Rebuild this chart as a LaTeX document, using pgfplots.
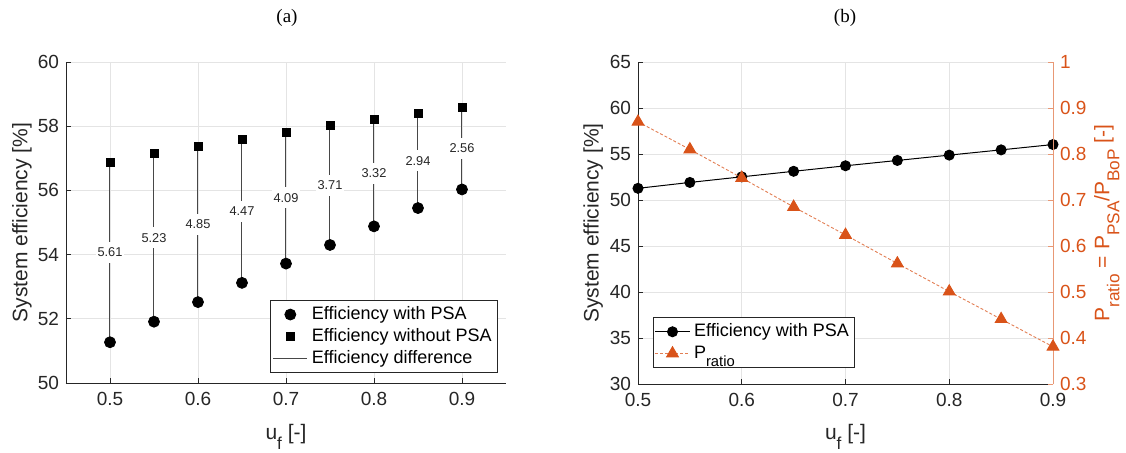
\documentclass[border=0pt]{standalone}
\usepackage{fontspec}
\setmainfont{Liberation Sans}
\newfontfamily\titlefont{Liberation Serif}
\usepackage{pgfplots}
\pgfplotsset{compat=1.18}
\definecolor{morange}{RGB}{217,83,25}
\definecolor{mgrid}{RGB}{228,228,228}
\definecolor{maxis}{RGB}{38,38,38}
% MATLAB-like subscript: larger and lower than \textsubscript
\newcommand{\msub}[1]{\raisebox{-0.9ex}{\scalebox{0.82}{#1}}}

\pgfplotsset{mstyle/.style={
  scale only axis,
  axis x line*=bottom, axis y line*=left,
  x axis line style={-}, y axis line style={-},
  axis line style={maxis, line width=0.4pt},
  grid=major, major grid style={mgrid, line width=0.4pt},
  tick align=inside, major tick length=2.5pt, tick style={maxis, line width=0.4pt},
  tick label style={font=\fontsize{9.5}{11}\selectfont, text=maxis},
  xticklabel style={yshift=-1pt},
  label style={font=\fontsize{10.5}{12}\selectfont, text=maxis},
  /pgf/number format/assume math mode=true,
  legend style={font=\fontsize{9}{10.5}\selectfont, draw=maxis, line width=0.4pt,
    inner sep=1pt, row sep=-1pt},
  legend cell align=left,
}}

\begin{document}
\begin{tikzpicture}
\useasboundingbox (0,0) rectangle (563pt,226pt);

% titles
\node[font=\titlefont\fontsize{9.5}{11}\selectfont] at (143.5pt,217pt) {(a)};
\node[font=\titlefont\fontsize{9.5}{11}\selectfont] at (422.5pt,217pt) {(b)};

% (a)
\begin{axis}[mstyle,
  at={(33pt,34.5pt)}, anchor=south west,
  width=220pt, height=160.5pt,
  xmin=0.45, xmax=0.95, ymin=50, ymax=60,
  xtick={0.5,0.6,0.7,0.8,0.9}, ytick={50,52,54,56,58,60},
  xlabel={u\msub{f} [-]},
  ylabel={System efficiency [\%]},
  xlabel style={at={(axis description cs:0.5,-0.168)}, anchor=center},
  ylabel style={at={(axis description cs:-0.1,0.5)}, anchor=center, rotate=0},
  legend style={at={(0.982,0.031)}, anchor=south east},
]
% efficiency difference lines
\addplot[forget plot, color=maxis!85, line width=0.5pt, unbounded coords=jump] coordinates {
  (0.50,51.27) (0.50,56.88) (0.50,nan)
  (0.55,51.91) (0.55,57.14) (0.55,nan)
  (0.60,52.52) (0.60,57.37) (0.60,nan)
  (0.65,53.12) (0.65,57.59) (0.65,nan)
  (0.70,53.72) (0.70,57.81) (0.70,nan)
  (0.75,54.30) (0.75,58.01) (0.75,nan)
  (0.80,54.88) (0.80,58.20) (0.80,nan)
  (0.85,55.45) (0.85,58.39) (0.85,nan)
  (0.90,56.03) (0.90,58.59)};
% difference labels
\addplot[forget plot, only marks, mark=none, nodes near coords, point meta=explicit symbolic,
  nodes near coords style={anchor=center, fill=white, inner xsep=1pt, inner ysep=3pt,
    font=\fontsize{6.4}{7}\selectfont, text=maxis}] coordinates {
  (0.50,54.075) [5.61]
  (0.55,54.525) [5.23]
  (0.60,54.945) [4.85]
  (0.65,55.355) [4.47]
  (0.70,55.765) [4.09]
  (0.75,56.155) [3.71]
  (0.80,56.54)  [3.32]
  (0.85,56.92)  [2.94]
  (0.90,57.31)  [2.56]};
\addplot[only marks, mark=*, mark size=2.75pt, black] coordinates {
  (0.50,51.27) (0.55,51.91) (0.60,52.52) (0.65,53.12) (0.70,53.72)
  (0.75,54.30) (0.80,54.88) (0.85,55.45) (0.90,56.03)};
\addlegendentry{Efficiency with PSA}
\addplot[only marks, mark=square*, mark size=2pt, black] coordinates {
  (0.50,56.88) (0.55,57.14) (0.60,57.37) (0.65,57.59) (0.70,57.81)
  (0.75,58.01) (0.80,58.20) (0.85,58.39) (0.90,58.59)};
\addlegendentry{Efficiency without PSA}
\addlegendimage{line legend, color=maxis!85, line width=0.5pt}
\addlegendentry{Efficiency difference}
\end{axis}

% (b) left axis
\begin{axis}[mstyle,
  at={(319pt,34pt)}, anchor=south west,
  width=207.5pt, height=161pt,
  xmin=0.5, xmax=0.9, ymin=30, ymax=65,
  xtick={0.5,0.6,0.7,0.8,0.9}, ytick={30,35,40,45,50,55,60,65},
  xlabel={u\msub{f} [-]},
  ylabel={System efficiency [\%]},
  xlabel style={at={(axis description cs:0.5,-0.165)}, anchor=center},
  ylabel style={at={(axis description cs:-0.108,0.5)}, anchor=center},
]
\addplot[black, line width=0.5pt, mark=*, mark size=2.5pt] coordinates {
  (0.50,51.27) (0.55,51.91) (0.60,52.52) (0.65,53.12) (0.70,53.72)
  (0.75,54.30) (0.80,54.88) (0.85,55.45) (0.90,56.03)};
\end{axis}

% (b) right axis
\begin{axis}[
  scale only axis,
  at={(319pt,34pt)}, anchor=south west,
  width=207.5pt, height=161pt,
  xmin=0.5, xmax=0.9, ymin=0.3, ymax=1,
  axis x line=none, axis y line*=right,
  y axis line style={-, morange!60, line width=0.4pt},
  tick align=inside, major tick length=2.5pt, ytick style={morange!60, line width=0.4pt},
  ytick={0.3,0.4,0.5,0.6,0.7,0.8,0.9,1},
  tick label style={font=\fontsize{9.5}{11}\selectfont, text=morange},
  /pgf/number format/assume math mode=true,
  ylabel={P\msub{ratio} = P\msub{PSA}/P\msub{BoP} [-]},
  ylabel style={font=\fontsize{10.5}{12}\selectfont, text=morange,
    at={(axis description cs:1.13,0.5)}, anchor=center},
  legend style={font=\fontsize{9}{10.5}\selectfont, draw=maxis, line width=0.4pt,
    inner sep=1pt, row sep=-1pt, at={(0.035,0.051)}, anchor=south west},
  legend cell align=left,
]
\addlegendimage{black, line width=0.5pt, mark=*, mark size=2.5pt}
\addlegendentry{Efficiency with PSA}
\addplot[morange!75, dash pattern=on 1.5pt off 1pt, line width=0.45pt, mark=triangle*, mark size=3.4pt,
  mark options={solid, fill=morange, draw=morange}] coordinates {
  (0.50,0.870) (0.55,0.810) (0.60,0.748) (0.65,0.685) (0.70,0.624)
  (0.75,0.562) (0.80,0.501) (0.85,0.441) (0.90,0.381)};
\addlegendentry{P\msub{ratio}}
\end{axis}
\end{tikzpicture}
\end{document}
